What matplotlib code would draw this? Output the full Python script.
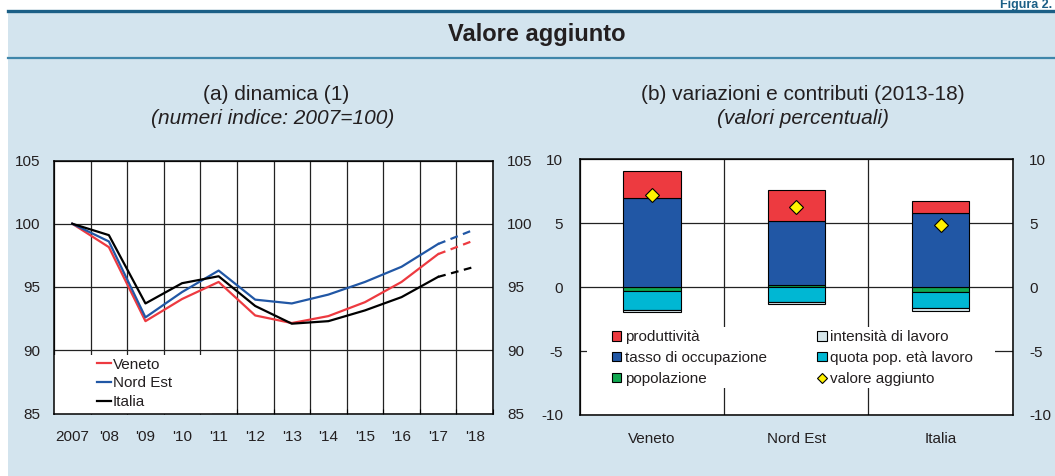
import matplotlib.pyplot as plt
from matplotlib.patches import Rectangle
from matplotlib.lines import Line2D
import numpy as np

plt.rcParams['font.family'] = ['Liberation Sans', 'DejaVu Sans']
plt.rcParams['text.color'] = '#231f20'
plt.rcParams['axes.unicode_minus'] = False

# (a) dinamica - numeri indice 2007=100
anni = ['2007', "'08", "'09", "'10", "'11", "'12", "'13", "'14", "'15", "'16", "'17", "'18"]
veneto = [100, 98.15, 92.3, 94.05, 95.4, 92.75, 92.15, 92.7, 93.8, 95.4, 97.6, 98.7]
nord_est = [100, 98.6, 92.6, 94.6, 96.3, 94.0, 93.7, 94.4, 95.4, 96.6, 98.4, 99.55]
italia = [100, 99.1, 93.7, 95.3, 95.85, 93.5, 92.1, 92.3, 93.15, 94.2, 95.8, 96.6]

# (b) variazioni e contributi 2013-18
regioni = ['Veneto', 'Nord Est', 'Italia']
produttivita = [2.1, 2.4, 0.95]
tasso_occ = [7.0, 5.05, 5.8]
popolazione = [-0.3, 0.15, -0.4]
quota_pop = [-1.45, -1.15, -1.2]
intensita = [-0.2, -0.15, -0.25]
valore_agg = [7.2, 6.3, 4.9]

BG = '#d3e4ee'
ROSSO = '#ed3a40'
BLU = '#2157a5'
VERDE = '#10a850'
CIANO = '#00b7d3'
GRIGIO = '#d6e6ea'
TXT = '#231f20'

W, H = 1055, 476
fig = plt.figure(figsize=(W / 100, H / 100), dpi=100)
fig.patch.set_facecolor('white')

def fx(px):
    return px / W

def fy(py):
    return 1 - py / H

# sfondo e righe della testata
fig.add_artist(Rectangle((fx(8), 0), 1 - fx(8), fy(10), facecolor=BG, edgecolor='none',
                         transform=fig.transFigure, zorder=0))
fig.add_artist(Line2D([fx(8), 1], [fy(10.5), fy(10.5)], color='#1b5f86', lw=2.4,
                      transform=fig.transFigure))
fig.add_artist(Line2D([fx(8), 1], [fy(57.5), fy(57.5)], color='#3f86aa', lw=1.6,
                      transform=fig.transFigure))
fig.text(fx(1052), fy(8), 'Figura 2.', ha='right', va='baseline', fontsize=9,
         fontweight='bold', color='#1b5f86')
fig.text(fx(537), fy(35), 'Valore aggiunto', ha='center', va='center', fontsize=17,
         fontweight='bold')

fig.text(fx(276), fy(95), '(a) dinamica (1)', ha='center', va='center', fontsize=15)
fig.text(fx(273), fy(118), '(numeri indice: 2007=100)', ha='center', va='center',
         fontsize=15, style='italic')
fig.text(fx(803), fy(95), '(b) variazioni e contributi (2013-18)', ha='center',
         va='center', fontsize=15)
fig.text(fx(803), fy(118), '(valori percentuali)', ha='center', va='center',
         fontsize=15, style='italic')

# ---------------- pannello (a)
ax1 = fig.add_axes([fx(54), fy(413.5), fx(493 - 54), (413.5 - 160.5) / H])
ax1.set_facecolor('white')
x = np.arange(len(anni)) + 0.5
for serie, col, lab in [(veneto, ROSSO, 'Veneto'), (nord_est, BLU, 'Nord Est'),
                        (italia, 'black', 'Italia')]:
    ax1.plot(x[:-1], serie[:-1], color=col, lw=1.6, label=lab, zorder=3)
    ax1.plot(x[-2:], serie[-2:], color=col, lw=1.6, ls=(0, (3.5, 2.5)), zorder=3)

ax1.set_xlim(0, len(anni))
ax1.set_ylim(85, 105)
ax1.set_yticks([85, 90, 95, 100, 105])
ax1.set_xticks(np.arange(len(anni) + 1))
ax1.set_xticks(x, minor=True)
ax1.set_xticklabels([])
ax1.set_xticklabels(anni, minor=True)
ax1.tick_params(axis='x', which='major', direction='in', length=3.5, width=0.8)
ax1.tick_params(axis='x', which='minor', length=0, pad=12, labelsize=11, labelcolor=TXT)
ax1.tick_params(axis='y', length=0, pad=10, labelsize=11, labelcolor=TXT,
                right=True, labelright=True)
ax1.grid(True, which='major', color='#222222', lw=0.9, zorder=1)
for s in ax1.spines.values():
    s.set_linewidth(1.1)
ax1.add_patch(Rectangle((0, 0), (212 - 54) / 439, (413.5 - 355) / 253,
                        transform=ax1.transAxes, facecolor='white', edgecolor='none',
                        zorder=2))
leg1 = ax1.legend(loc='lower left', bbox_to_anchor=((92 - 54) / 439, 0.0), frameon=False,
                  fontsize=11, handlelength=0.95, handletextpad=0.1, labelspacing=0.3,
                  borderaxespad=0.1, borderpad=0.2)
leg1.set_zorder(5)

# ---------------- pannello (b)
ax2 = fig.add_axes([fx(580), fy(415), fx(1012.7 - 580), (415 - 159.3) / H])
ax2.set_facecolor('white')
xb = np.arange(len(regioni))
componenti = [(popolazione, VERDE, 'popolazione'),
              (tasso_occ, BLU, 'tasso di occupazione'),
              (produttivita, ROSSO, 'produttività'),
              (quota_pop, CIANO, 'quota pop. età lavoro'),
              (intensita, GRIGIO, 'intensità di lavoro')]
pos = np.zeros(len(regioni))
neg = np.zeros(len(regioni))
barre = {}
for vals, col, lab in componenti:
    v = np.array(vals, dtype=float)
    bottom = np.where(v >= 0, pos, neg)
    b = ax2.bar(xb, v, 0.4, bottom=bottom, color=col, edgecolor='black', lw=0.8,
                zorder=3, label=lab)
    barre[lab] = b
    pos = np.where(v >= 0, pos + v, pos)
    neg = np.where(v < 0, neg + v, neg)
diam, = ax2.plot(xb, valore_agg, 'D', color='#fff200', mec='black', mew=0.8, ms=7.5,
                 zorder=4, ls='none', label='valore aggiunto')

ax2.set_xlim(-0.5, len(regioni) - 0.5)
ax2.set_ylim(-10, 10)
ax2.set_yticks([-10, -5, 0, 5, 10])
ax2.set_xticks(np.arange(len(regioni) + 1) - 0.5)
ax2.set_xticklabels([])
ax2.set_xticks(xb, minor=True)
ax2.set_xticklabels(regioni, minor=True)
ax2.tick_params(axis='x', which='major', length=0)
ax2.tick_params(axis='x', which='minor', length=0, pad=12, labelsize=11, labelcolor=TXT)
ax2.tick_params(axis='y', length=0, pad=12, labelsize=11, labelcolor=TXT,
                right=True, labelright=True)
ax2.grid(True, which='major', color='#222222', lw=0.9, zorder=1)
for s in ax2.spines.values():
    s.set_linewidth(1.1)
ax2.add_patch(Rectangle(((587 - 580) / 432.7, (415 - 388) / 255.7), (995 - 587) / 432.7,
                        (388 - 327) / 255.7, transform=ax2.transAxes, facecolor='white',
                        edgecolor='none', zorder=2))
ordine = ['produttività', 'tasso di occupazione', 'popolazione',
          'intensità di lavoro', 'quota pop. età lavoro']
handles = [barre[k] for k in ordine] + [diam]
labels = ordine + ['valore aggiunto']
leg2 = ax2.legend(handles, labels, ncol=2, loc='upper left',
                  bbox_to_anchor=((609 - 580) / 432.7, (415 - 327) / 255.7),
                  frameon=False, fontsize=11, handlelength=0.6, handleheight=0.6,
                  handletextpad=0.25, labelspacing=0.45, columnspacing=3.3,
                  borderaxespad=0, borderpad=0.2)
for h in leg2.legend_handles[-1:]:
    h.set_markersize(5.5)
leg2.set_zorder(5)

fig.savefig('out.png', dpi=100, facecolor=fig.get_facecolor())
